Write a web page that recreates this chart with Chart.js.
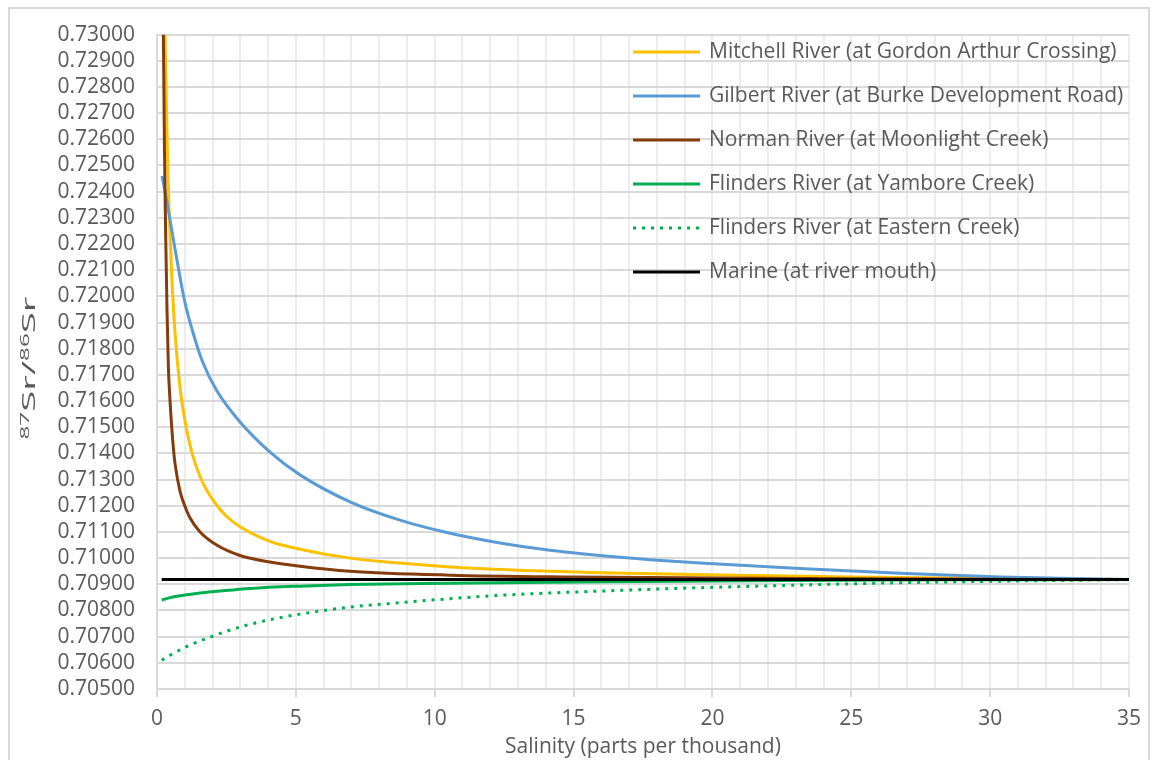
<!DOCTYPE html>
<html>
<head>
<meta charset="utf-8">
<script src="https://cdn.jsdelivr.net/npm/chart.js@4/dist/chart.umd.min.js"></script>
<style>
    html, body { margin: 0; padding: 0; background: #ffffff; }
    #wrap { position: relative; width: 1160px; height: 760px; }
    #frame { position: absolute; left: 8px; top: 7px; width: 1142px; height: 780px; border: 2px solid #d9d9d9; box-sizing: border-box; }
    canvas { position: absolute; left: 0; top: 0; }
</style>
</head>
<body>
<div id="wrap">
    <div id="frame"></div>
    <canvas id="chart" width="1160" height="760"></canvas>
</div>
<script>
// Salinity (ppt) and 87Sr/86Sr
const mitchellSal = [0.29, 0.34, 0.39, 0.44, 0.53, 0.65, 0.83, 1.0, 1.12, 1.30, 1.55, 1.8, 2.15, 2.5, 2.99, 4.07, 5.15, 6.95, 8.75, 10.55, 13.0, 15.95, 21.35, 25, 30, 35];
const mitchellSr  = [0.73000, 0.72720, 0.72480, 0.72320, 0.72080, 0.71860, 0.71650, 0.71530, 0.71463, 0.71387, 0.71312, 0.71257, 0.71202, 0.71160, 0.71120, 0.71064, 0.71034, 0.71000, 0.70981, 0.70966, 0.70954, 0.70944, 0.70934, 0.70928, 0.70922, 0.70918];

const gilbertSal = [0.18, 0.36, 0.65, 1.0, 1.3, 1.64, 2.15, 2.99, 4.07, 5.15, 6.95, 8.75, 10.55, 12.35, 14.15, 15.95, 17.75, 19.55, 23.15, 26.76, 30.36, 35];
const gilbertSr  = [0.72460, 0.72360, 0.72180, 0.71980, 0.71860, 0.71750, 0.71640, 0.71520, 0.71405, 0.71318, 0.71215, 0.71145, 0.71095, 0.71058, 0.71030, 0.71010, 0.70994, 0.70981, 0.70960, 0.70942, 0.70928, 0.70918];

const normanSal = [0.23, 0.27, 0.31, 0.36, 0.41, 0.47, 0.53, 0.59, 0.65, 0.83, 1.0, 1.19, 1.55, 2.15, 2.99, 4.07, 5.15, 6.95, 10.55, 15, 20, 25, 30, 35];
const normanSr  = [0.73000, 0.72550, 0.72250, 0.71950, 0.71730, 0.71600, 0.71500, 0.71420, 0.71360, 0.71255, 0.71200, 0.71153, 0.71100, 0.71050, 0.71010, 0.70985, 0.70969, 0.70950, 0.70935, 0.70928, 0.70924, 0.70921, 0.70919, 0.70918];

const yamboreSal = [0.17, 0.5, 1.0, 1.55, 2.15, 3.35, 5.15, 6.95, 10.55, 15.95, 21.35, 28, 35];
const yamboreSr  = [0.70840, 0.70850, 0.70859, 0.70867, 0.70873, 0.70884, 0.70893, 0.70899, 0.70904, 0.70910, 0.70914, 0.70917, 0.70918];

const easternSal = [0.17, 0.47, 1.19, 1.91, 2.99, 4.07, 5.15, 6.95, 8.75, 10.55, 12.35, 15.95, 19.55, 23.15, 26.76, 30.36, 35];
const easternSr  = [0.70610, 0.70629, 0.70668, 0.70698, 0.70737, 0.70765, 0.70786, 0.70813, 0.70830, 0.70845, 0.70858, 0.70874, 0.70887, 0.70897, 0.70906, 0.70912, 0.70918];

const marineSal = [0.17, 35];
const marineSr  = [0.70918, 0.70918];

const seriesNames = [
    'Mitchell River (at Gordon Arthur Crossing)',
    'Gilbert River (at Burke Development Road)',
    'Norman River (at Moonlight Creek)',
    'Flinders River (at Yambore Creek)',
    'Flinders River (at Eastern Creek)',
    'Marine (at river mouth)'
];
const seriesColors = ['#ffc000', '#5b9bd5', '#843c0c', '#00b050', '#00b050', '#000000'];

const xMin = 0, xMax = 35, xStep = 1, xLabelEvery = 5;
const yMin = 0.705, yMax = 0.730, yStep = 0.001;

const FONT = "'Open Sans', 'Noto Sans', sans-serif";
const TEXT = '#595959';

function toPoints(xs, ys) {
    return xs.map((x, i) => ({ x: x, y: ys[i] }));
}

const seriesData = [
    toPoints(mitchellSal, mitchellSr),
    toPoints(gilbertSal, gilbertSr),
    toPoints(normanSal, normanSr),
    toPoints(yamboreSal, yamboreSr),
    toPoints(easternSal, easternSr),
    toPoints(marineSal, marineSr)
];

const datasets = seriesData.map((pts, i) => ({
    label: seriesNames[i],
    data: pts,
    borderColor: seriesColors[i],
    backgroundColor: seriesColors[i],
    borderWidth: 3,
    borderDash: i === 4 ? [3, 6] : [],
    pointRadius: 0,
    cubicInterpolationMode: 'monotone',
    order: 6 - i,
    fill: false
}));

// legend drawn inside the plot, top right
const insideLegend = {
    id: 'insideLegend',
    afterDraw(chart) {
        const ctx = chart.ctx;
        const lineX0 = 633, lineX1 = 700, textX = 709, rowY = 52, rowGap = 44;
        ctx.save();
        ctx.font = '21px ' + FONT;
        ctx.textBaseline = 'middle';
        ctx.textAlign = 'left';
        seriesNames.forEach((name, i) => {
            const y = rowY + i * rowGap;
            ctx.strokeStyle = seriesColors[i];
            ctx.lineWidth = 3;
            ctx.setLineDash(i === 4 ? [3, 6] : []);
            ctx.beginPath();
            ctx.moveTo(lineX0, y);
            ctx.lineTo(lineX1, y);
            ctx.stroke();
            ctx.setLineDash([]);
            ctx.fillStyle = TEXT;
            ctx.fillText(name, textX, y);
        });
        ctx.restore();
    }
};

// y title with real superscripts: 87Sr/86Sr
const yTitle = {
    id: 'yTitle',
    afterDraw(chart) {
        const ctx = chart.ctx;
        const parts = [['87', 12, true], ['Sr/', 19, false], ['86', 12, true], ['Sr', 19, false]];
        ctx.save();
        ctx.fillStyle = TEXT;
        ctx.textBaseline = 'alphabetic';
        let total = 0;
        parts.forEach(p => { ctx.font = p[1] + 'px ' + FONT; total += ctx.measureText(p[0]).width; });
        ctx.translate(28, 368);
        ctx.rotate(-Math.PI / 2);
        ctx.scale(143 / total, 1);
        let x = -total / 2;
        parts.forEach(p => {
            ctx.font = p[1] + 'px ' + FONT;
            ctx.fillText(p[0], x, p[2] ? 1 : 7);
            x += ctx.measureText(p[0]).width;
        });
        ctx.restore();
    }
};

const ctx = document.getElementById('chart').getContext('2d');
new Chart(ctx, {
    type: 'line',
    data: { datasets: datasets },
    options: {
        responsive: false,
        animation: false,
        devicePixelRatio: 1,
        layout: { padding: { left: 0, top: 28, right: 31, bottom: 0 } },
        plugins: {
            legend: { display: false },
            tooltip: { enabled: false }
        },
        scales: {
            x: {
                type: 'linear',
                min: xMin,
                max: xMax,
                afterFit: (scale) => { scale.height = 71; },
                border: { color: '#d9d9d9', width: 2 },
                grid: {
                    color: '#ededed',
                    lineWidth: 2,
                    tickLength: 8,
                    tickColor: (c) => (c.tick && c.tick.value % xLabelEvery === 0) ? '#d9d9d9' : 'rgba(0,0,0,0)'
                },
                ticks: {
                    stepSize: xStep,
                    autoSkip: false,
                    maxRotation: 0,
                    padding: 9,
                    color: TEXT,
                    font: { family: FONT, size: 21 },
                    callback: (v) => (v % xLabelEvery === 0 ? String(v) : '')
                },
                title: {
                    display: true,
                    text: 'Salinity (parts per thousand)',
                    color: TEXT,
                    font: { family: FONT, size: 21 },
                    padding: { top: 0, bottom: 0 }
                }
            },
            y: {
                type: 'linear',
                min: yMin,
                max: yMax,
                afterFit: (scale) => { scale.width = 157; },
                border: { color: '#d9d9d9', width: 2 },
                grid: {
                    color: '#d9d9d9',
                    lineWidth: 2,
                    drawTicks: false
                },
                ticks: {
                    stepSize: yStep,
                    autoSkip: false,
                    padding: 22,
                    color: TEXT,
                    font: { family: FONT, size: 21 },
                    callback: (v) => Number(v).toFixed(5)
                }
            }
        }
    },
    plugins: [insideLegend, yTitle]
});
</script>
</body>
</html>
